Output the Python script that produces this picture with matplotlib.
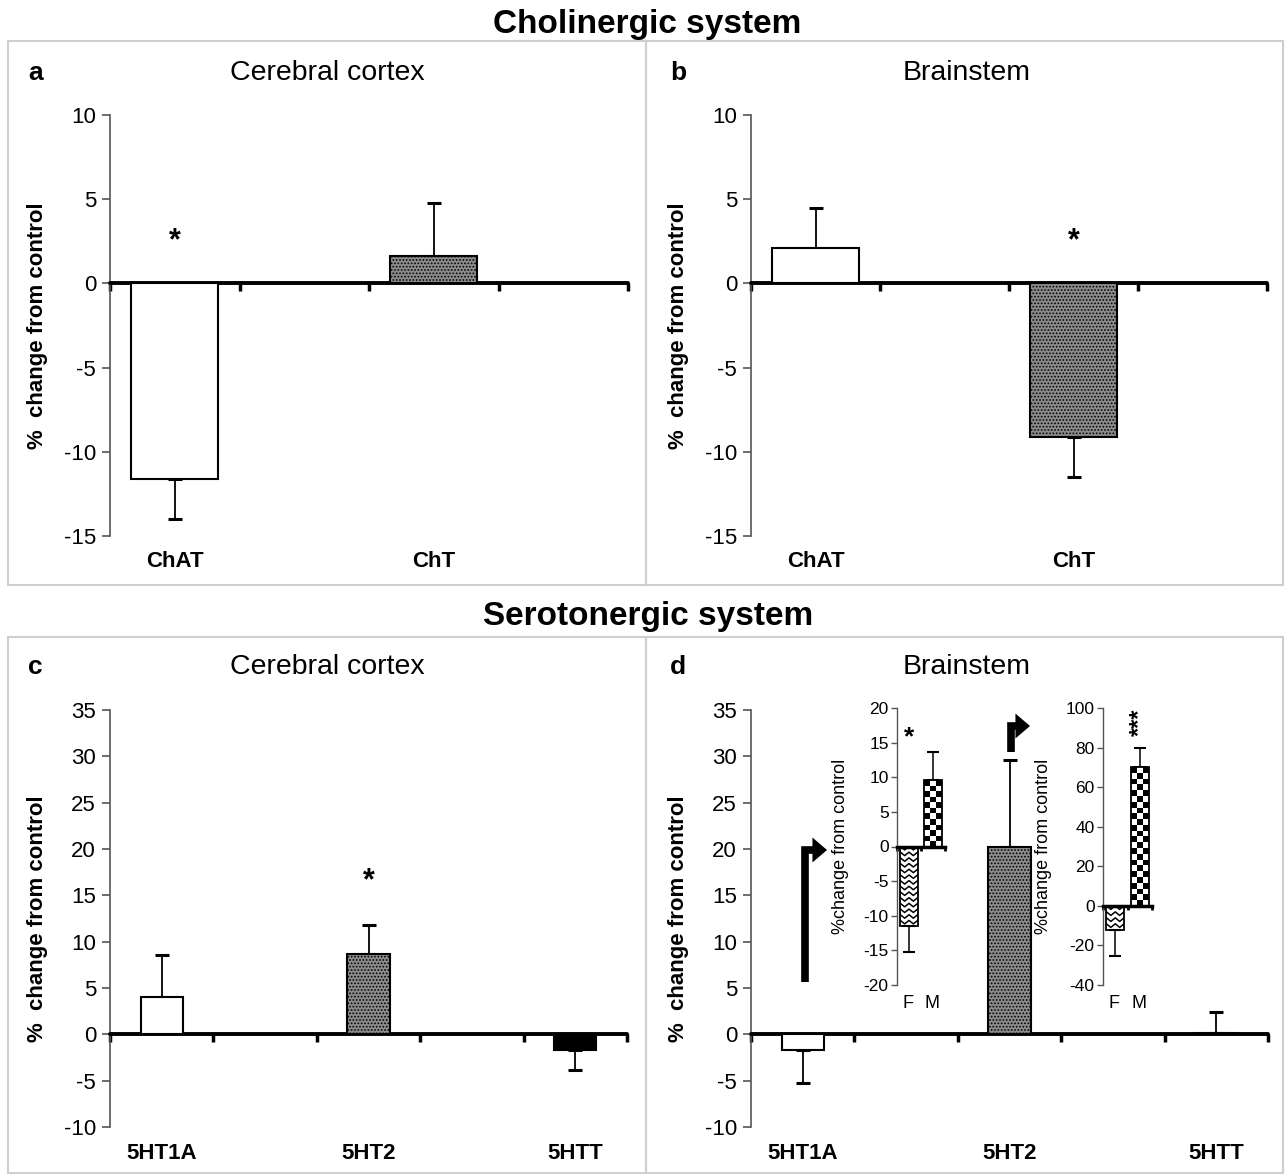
import numpy as np
import matplotlib
matplotlib.use("Agg")
import matplotlib.pyplot as plt
from matplotlib.patches import Rectangle, FancyArrowPatch
from matplotlib.path import Path
from matplotlib.lines import Line2D

plt.rcParams['axes.unicode_minus'] = False
plt.rcParams['hatch.linewidth'] = 0.8
NARROW = ['Liberation Sans Narrow', 'Liberation Sans', 'DejaVu Sans']
SANS = ['Liberation Sans', 'DejaVu Sans']
plt.rcParams['font.family'] = NARROW

# ---------------- data ----------------
chol_categories = ['ChAT', 'ChT']
cortex_chol_values = [-11.6, 1.6]
cortex_chol_errors = [2.4, 3.2]
brainstem_chol_values = [2.1, -9.1]
brainstem_chol_errors = [2.4, 2.4]

sero_categories = ['5HT1A', '5HT2', '5HTT']
cortex_sero_values = [4.0, 8.7, -1.7]
cortex_sero_errors = [4.6, 3.1, 2.2]
brainstem_sero_values = [-1.7, 20.2, 0.1]
brainstem_sero_errors = [3.5, 9.4, 2.3]

sex_categories = ['F', 'M']
inset_5ht1a_values = [-11.5, 9.6]
inset_5ht1a_errors = [3.8, 4.1]
inset_5ht2_values = [-12.1, 70.0]
inset_5ht2_errors = [13.1, 10.0]

chol_yticks = [-15, -10, -5, 0, 5, 10]
sero_yticks = [-10, -5, 0, 5, 10, 15, 20, 25, 30, 35]
inset1_yticks = [-20, -15, -10, -5, 0, 5, 10, 15, 20]
inset2_yticks = [-40, -20, 0, 20, 40, 60, 80, 100]

W, H = 1285, 1174
fig = plt.figure(figsize=(W / 100, H / 100), dpi=100)
fig.patch.set_facecolor('white')


def fx(x):
    return x / W


def fy(y):
    return 1 - y / H


def rect(x0, y0, x1, y1):
    return [fx(x0), fy(y1), (x1 - x0) / W, (y1 - y0) / H]


# panel frames
for (x0, y0, x1, y1) in [(8, 41, 646, 585), (646, 41, 1283, 585),
                         (8, 637, 646, 1173), (646, 637, 1283, 1173)]:
    fig.add_artist(Rectangle((fx(x0), fy(y1)), (x1 - x0) / W, (y1 - y0) / H,
                             transform=fig.transFigure, fill=False,
                             edgecolor='#cfcfcf', lw=1.5))

fig.text(fx(647), fy(25), 'Cholinergic system', ha='center', va='center',
         fontsize=24, fontweight='bold', family=NARROW)
fig.text(fx(648), fy(616), 'Serotonergic system', ha='center', va='center',
         fontsize=24, fontweight='bold', family=NARROW)

GRAY = '#8c8c8c'


def style_main(ax, nslots, ylim, yticks):
    ax.set_xlim(0, nslots)
    ax.set_ylim(*ylim)
    for s in ['top', 'right']:
        ax.spines[s].set_visible(False)
    ax.spines['left'].set_color('#555555')
    ax.spines['left'].set_linewidth(1.2)
    ax.spines['bottom'].set_position(('data', 0))
    ax.spines['bottom'].set_linewidth(2.8)
    ax.spines['bottom'].set_capstyle('round')
    ax.set_xticks(np.arange(nslots + 1))
    ax.set_xticklabels([])
    ax.tick_params(axis='x', direction='out', length=6, width=2.5, color='black')
    ax.set_yticks(yticks)
    ax.tick_params(axis='y', direction='out', length=6, width=1.2,
                   color='#555555', labelsize=16, pad=4)
    ax.set_ylabel('%  change from control', fontsize=16, fontweight='bold',
                  family=NARROW)
    ax.yaxis.set_label_coords(-0.12, 0.5)
    ax.set_facecolor('none')


def draw_bars(ax, positions, values, errors, width, faces, hatches):
    bars = ax.bar(positions, values, width=width, color=faces,
                  edgecolor='black', linewidth=1.5, zorder=3)
    for b, h in zip(bars, hatches):
        if h:
            b.set_hatch(h)
    lower = [0 if v >= 0 else e for v, e in zip(values, errors)]
    upper = [e if v >= 0 else 0 for v, e in zip(values, errors)]
    ax.errorbar(positions, values, yerr=[lower, upper], fmt='none',
                ecolor='black', elinewidth=1.3, capsize=5, capthick=2.2,
                zorder=2)
    return bars


def cat_labels(ax, positions, labels, y_off=-0.06, size=16):
    for p, l in zip(positions, labels):
        ax.text(p, y_off, l, transform=ax.get_xaxis_transform(), ha='center',
                va='center', fontsize=size, fontweight='bold', family=SANS)


def star(ax, x, y, size=22, rot=0):
    ax.text(x, y, '*', ha='center', va='center', fontsize=size,
            fontweight='bold', family=SANS, rotation=rot)


# ---------- panel a ----------
ax_a = fig.add_axes(rect(110, 115, 628, 536))
pos_chol = [0.5, 2.5]
style_main(ax_a, 4, (-15, 10), chol_yticks)
draw_bars(ax_a, pos_chol, cortex_chol_values, cortex_chol_errors, 0.67,
          ['white', GRAY], [None, '.....'])
cat_labels(ax_a, pos_chol, chol_categories)
star(ax_a, pos_chol[0], 2.5)

# ---------- panel b ----------
ax_b = fig.add_axes(rect(751, 115, 1267, 536))
style_main(ax_b, 4, (-15, 10), chol_yticks)
draw_bars(ax_b, pos_chol, brainstem_chol_values, brainstem_chol_errors, 0.67,
          ['white', GRAY], [None, '.....'])
cat_labels(ax_b, pos_chol, chol_categories)
star(ax_b, pos_chol[1], 2.5)

# ---------- panel c ----------
ax_c = fig.add_axes(rect(110, 710, 627, 1127))
pos_sero = [0.5, 2.5, 4.5]
style_main(ax_c, 5, (-10, 35), sero_yticks)
draw_bars(ax_c, pos_sero, cortex_sero_values, cortex_sero_errors, 0.41,
          ['white', GRAY, 'black'], [None, '.....', None])
cat_labels(ax_c, pos_sero, sero_categories, y_off=-0.063)
star(ax_c, pos_sero[1], 16.5)

# ---------- panel d ----------
ax_d = fig.add_axes(rect(751, 710, 1268, 1127))
style_main(ax_d, 5, (-10, 35), sero_yticks)
draw_bars(ax_d, pos_sero, brainstem_sero_values, brainstem_sero_errors, 0.41,
          ['white', GRAY, 'black'], [None, '.....', None])
cat_labels(ax_d, pos_sero, sero_categories, y_off=-0.063)

# letters and titles
for (px, py, letter) in [(28, 73, 'a'), (670, 73, 'b'),
                         (28, 667, 'c'), (670, 667, 'd')]:
    fig.text(fx(px), fy(py), letter, ha='left', va='center', fontsize=19,
             fontweight='bold', family=SANS)
for (px, py, title) in [(327, 73, 'Cerebral cortex'), (967, 73, 'Brainstem'),
                        (327, 667, 'Cerebral cortex'), (967, 667, 'Brainstem')]:
    fig.text(fx(px), fy(py), title, ha='center', va='center', fontsize=20.5,
             family=SANS)


# ---------- insets ----------
def checker_fill(ax, bar, nx, ny):
    x, y = bar.get_x(), bar.get_y()
    w, h = bar.get_width(), bar.get_height()
    arr = np.add.outer(np.arange(ny), np.arange(nx)) % 2
    im = ax.imshow(arr, cmap='gray', extent=(x, x + w, y, y + h),
                   aspect='auto', interpolation='nearest', zorder=2.5)
    im.set_clip_path(bar)


def zigzag_fill(ax, bar, nrows, nzig=2):
    x, y = bar.get_x(), bar.get_y()
    w, h = bar.get_width(), bar.get_height()
    step = h / nrows
    amp = abs(step) * 0.6
    xs = np.linspace(x, x + w, 2 * nzig + 1)
    for k in range(nrows + 1):
        base = y + k * step
        ys = [base + (amp if i % 2 else 0) * np.sign(step) for i in range(len(xs))]
        ln = Line2D(xs, ys, color='black', lw=1.1, zorder=2.6)
        ax.add_line(ln)
        ln.set_clip_path(bar)


def style_inset(ax, ylim, yticks):
    ax.set_xlim(0, 2)
    ax.set_ylim(*ylim)
    for s in ['top', 'right']:
        ax.spines[s].set_visible(False)
    ax.spines['left'].set_color('#555555')
    ax.spines['left'].set_linewidth(1.0)
    ax.spines['bottom'].set_position(('data', 0))
    ax.spines['bottom'].set_linewidth(2.5)
    ax.set_xticks([0, 1, 2])
    ax.set_xticklabels([])
    ax.tick_params(axis='x', direction='out', length=3, width=2, color='black')
    ax.set_yticks(yticks)
    ax.tick_params(axis='y', direction='out', length=4, width=1.0,
                   color='#555555', labelsize=12.5, pad=2)
    ax.set_ylabel('%change from control', fontsize=13, family=NARROW,
                  labelpad=1)
    ax.set_facecolor('none')


def inset(rect_px, values, errors, ylim, yticks, nrows_f, ny_m, label_x):
    ax = fig.add_axes(rect(*rect_px))
    style_inset(ax, ylim, yticks)
    pos = [0.5, 1.5]
    bars = ax.bar(pos, values, width=0.72, color='none', edgecolor='black',
                  linewidth=1.3, zorder=3)
    zigzag_fill(ax, bars[0], nrows_f)
    checker_fill(ax, bars[1], 3, ny_m)
    lower = [0 if v >= 0 else e for v, e in zip(values, errors)]
    upper = [e if v >= 0 else 0 for v, e in zip(values, errors)]
    ax.errorbar(pos, values, yerr=[lower, upper], fmt='none', ecolor='black',
                elinewidth=1.1, capsize=4, capthick=1.5, zorder=2)
    ax.set_xlim(0, 2)
    ax.set_ylim(*ylim)
    for p, l in zip(pos, sex_categories):
        ax.text(p - 0.05, -0.065, l, transform=ax.get_xaxis_transform(),
                ha='center', va='center', fontsize=13, family=NARROW)
    ax.yaxis.set_label_coords(label_x, 0.5)
    return ax


ax_i1 = inset((897, 708, 945, 985), inset_5ht1a_values, inset_5ht1a_errors,
              (-20, 20), inset1_yticks, 14, 12, -1.0)
star(ax_i1, 0.5, 15.8, size=19)
ax_i2 = inset((1103, 708, 1152, 985), inset_5ht2_values, inset_5ht2_errors,
              (-40, 100), inset2_yticks, 4, 24, -1.05)
ax_i2.text(1.5, 93, '***', ha='center', va='center', fontsize=17,
           fontweight='bold', family=SANS, rotation=90)


# ---------- arrows ----------
def bent_arrow(x0, y0, y1, x1):
    path = Path([(fx(x0), fy(y0)), (fx(x0), fy(y1)), (fx(x1), fy(y1))],
                [Path.MOVETO, Path.LINETO, Path.LINETO])
    arr = FancyArrowPatch(path=path,
                          arrowstyle='-|>,head_length=0.35,head_width=0.3',
                          mutation_scale=10, lw=5.5, color='black',
                          transform=fig.transFigure, joinstyle='miter',
                          capstyle='butt')
    fig.add_artist(arr)


bent_arrow(805, 982, 850, 827)
bent_arrow(1011, 752, 726, 1030)

fig.savefig('out.png', dpi=100, facecolor='white')
